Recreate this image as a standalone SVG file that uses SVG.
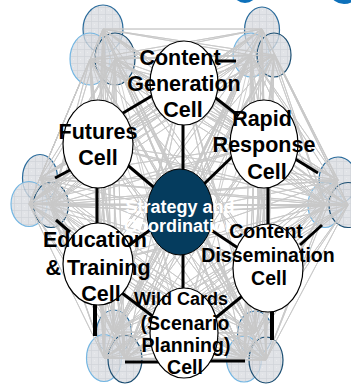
<svg xmlns="http://www.w3.org/2000/svg" width="351" height="384" viewBox="0 0 351 384">
  <defs>
    <pattern id="grid" width="7" height="7" patternUnits="userSpaceOnUse">
      <rect width="7" height="7" fill="#d9dce1"/>
      <path d="M0 0.5H7M0.5 0V7" stroke="#c6cad0" stroke-width="0.8"/>
      <rect x="3" y="3" width="1" height="1" fill="#e6e8eb"/>
    </pattern>
    <style>
      .sub { fill: url(#grid); fill-opacity: 0.8; stroke-width: 1.2; }
      .s1 { stroke: #2b6c9c; }
      .s2 { stroke: #74b6e2; }
      .s3 { stroke: #1b4e72; }
      .mesh { fill: none; stroke: #c8c8c8; stroke-width: 0.9; stroke-linejoin: round; }
      .link { fill: none; stroke: #000; stroke-width: 3; }
      .cell { fill: #fff; stroke: #000; stroke-width: 1.2; }
      .hub { fill: #053c5e; stroke: #000; stroke-width: 1; }
      text { font-family: "Liberation Sans", Arial, sans-serif; font-weight: bold; text-anchor: middle; fill: #000; }
      .big { font-size: 21.5px; }
      .mid { font-size: 19.5px; }
      .hubtxt { font-size: 18px; fill: #fff; }
    </style>
  </defs>

  <rect width="351" height="384" fill="#fff"/>

  <!-- partial blue shapes at the top edge -->
  <ellipse cx="245" cy="-6" rx="11" ry="9" fill="#0d70ba"/>
  <ellipse cx="344" cy="-6" rx="13" ry="10" fill="#0d70ba"/>

  <!-- satellite groups: three overlapping sub-units each -->
  <g id="group-top-left">
    <ellipse class="sub s1" cx="103" cy="29" rx="20" ry="24"/>
    <ellipse class="sub s2" cx="90" cy="59" rx="20" ry="26"/>
    <ellipse class="sub s3" cx="115" cy="59" rx="20" ry="26"/>
  </g>
  <g id="group-top-right">
    <ellipse class="sub s1" cx="262" cy="30" rx="17.5" ry="23"/>
    <ellipse class="sub s2" cx="251" cy="55" rx="18" ry="22"/>
    <ellipse class="sub s3" cx="274" cy="55" rx="17" ry="22"/>
  </g>
  <g id="group-left">
    <ellipse class="sub s1" cx="40" cy="178" rx="17.5" ry="23.5"/>
    <ellipse class="sub s2" cx="29" cy="204" rx="18" ry="22.5"/>
    <ellipse class="sub s3" cx="51" cy="205" rx="17.5" ry="22.5"/>
  </g>
  <g id="group-right">
    <ellipse class="sub s1" cx="338" cy="180" rx="19" ry="23"/>
    <ellipse class="sub s2" cx="325" cy="205" rx="17" ry="22.5"/>
    <ellipse class="sub s3" cx="348" cy="205" rx="19" ry="22.5"/>
  </g>
  <g id="group-bottom-left">
    <ellipse class="sub s1" cx="114" cy="332" rx="17.5" ry="22"/>
    <ellipse class="sub s2" cx="104" cy="358" rx="17.5" ry="23.5"/>
    <ellipse class="sub s3" cx="125" cy="359" rx="17" ry="24"/>
  </g>
  <g id="group-bottom-right">
    <ellipse class="sub s1" cx="255" cy="333" rx="17.5" ry="22"/>
    <ellipse class="sub s2" cx="244" cy="359" rx="17.5" ry="23"/>
    <ellipse class="sub s3" cx="266" cy="360" rx="17" ry="23"/>
  </g>

  <!-- connectors -->
  <g id="connectors">
    <!-- dense grey mesh between all units -->
    <path class="mesh" d="M103 29L262 29 103 29 251 55 103 29 274 55 103 29 40 178 103 29 29 204 103 29 51 205 103 29 338 180 103 29 325 205 103 29 348 205 103 29 114 332 103 29 104 358 103 29 125 359 103 29 255 333 103 29 244 359 103 29 266 360 103 29 184 83 103 29 98 144 103 29 264 144 103 29 180 212 103 29 98 264 103 29 268 268 103 29 184 333"/>
    <path class="mesh" d="M90 59L262 29 90 59 251 55 90 59 274 55 90 59 40 178 90 59 29 204 90 59 51 205 90 59 338 180 90 59 325 205 90 59 348 205 90 59 114 332 90 59 104 358 90 59 125 359 90 59 255 333 90 59 244 359 90 59 266 360 90 59 184 83 90 59 98 144 90 59 264 144 90 59 180 212 90 59 98 264 90 59 268 268 90 59 184 333"/>
    <path class="mesh" d="M115 59L262 29 115 59 251 55 115 59 274 55 115 59 40 178 115 59 29 204 115 59 51 205 115 59 338 180 115 59 325 205 115 59 348 205 115 59 114 332 115 59 104 358 115 59 125 359 115 59 255 333 115 59 244 359 115 59 266 360 115 59 184 83 115 59 98 144 115 59 264 144 115 59 180 212 115 59 98 264 115 59 268 268 115 59 184 333"/>
    <path class="mesh" d="M262 29L40 178 262 29 29 204 262 29 51 205 262 29 338 180 262 29 325 205 262 29 348 205 262 29 114 332 262 29 104 358 262 29 125 359 262 29 255 333 262 29 244 359 262 29 266 360 262 29 184 83 262 29 98 144 262 29 264 144 262 29 180 212 262 29 98 264 262 29 268 268 262 29 184 333"/>
    <path class="mesh" d="M251 55L40 178 251 55 29 204 251 55 51 205 251 55 338 180 251 55 325 205 251 55 348 205 251 55 114 332 251 55 104 358 251 55 125 359 251 55 255 333 251 55 244 359 251 55 266 360 251 55 184 83 251 55 98 144 251 55 264 144 251 55 180 212 251 55 98 264 251 55 268 268 251 55 184 333"/>
    <path class="mesh" d="M274 55L40 178 274 55 29 204 274 55 51 205 274 55 338 180 274 55 325 205 274 55 348 205 274 55 114 332 274 55 104 358 274 55 125 359 274 55 255 333 274 55 244 359 274 55 266 360 274 55 184 83 274 55 98 144 274 55 264 144 274 55 180 212 274 55 98 264 274 55 268 268 274 55 184 333"/>
    <path class="mesh" d="M40 178L338 180 40 178 325 205 40 178 348 205 40 178 114 332 40 178 104 358 40 178 125 359 40 178 255 333 40 178 244 359 40 178 266 360 40 178 184 83 40 178 98 144 40 178 264 144 40 178 180 212 40 178 98 264 40 178 268 268 40 178 184 333"/>
    <path class="mesh" d="M29 204L338 180 29 204 325 205 29 204 348 205 29 204 114 332 29 204 104 358 29 204 125 359 29 204 255 333 29 204 244 359 29 204 266 360 29 204 184 83 29 204 98 144 29 204 264 144 29 204 180 212 29 204 98 264 29 204 268 268 29 204 184 333"/>
    <path class="mesh" d="M51 205L338 180 51 205 325 205 51 205 348 205 51 205 114 332 51 205 104 358 51 205 125 359 51 205 255 333 51 205 244 359 51 205 266 360 51 205 184 83 51 205 98 144 51 205 264 144 51 205 180 212 51 205 98 264 51 205 268 268 51 205 184 333"/>
    <path class="mesh" d="M338 180L114 332 338 180 104 358 338 180 125 359 338 180 255 333 338 180 244 359 338 180 266 360 338 180 184 83 338 180 98 144 338 180 264 144 338 180 180 212 338 180 98 264 338 180 268 268 338 180 184 333"/>
    <path class="mesh" d="M325 205L114 332 325 205 104 358 325 205 125 359 325 205 255 333 325 205 244 359 325 205 266 360 325 205 184 83 325 205 98 144 325 205 264 144 325 205 180 212 325 205 98 264 325 205 268 268 325 205 184 333"/>
    <path class="mesh" d="M348 205L114 332 348 205 104 358 348 205 125 359 348 205 255 333 348 205 244 359 348 205 266 360 348 205 184 83 348 205 98 144 348 205 264 144 348 205 180 212 348 205 98 264 348 205 268 268 348 205 184 333"/>
    <path class="mesh" d="M114 332L255 333 114 332 244 359 114 332 266 360 114 332 184 83 114 332 98 144 114 332 264 144 114 332 180 212 114 332 98 264 114 332 268 268 114 332 184 333"/>
    <path class="mesh" d="M104 358L255 333 104 358 244 359 104 358 266 360 104 358 184 83 104 358 98 144 104 358 264 144 104 358 180 212 104 358 98 264 104 358 268 268 104 358 184 333"/>
    <path class="mesh" d="M125 359L255 333 125 359 244 359 125 359 266 360 125 359 184 83 125 359 98 144 125 359 264 144 125 359 180 212 125 359 98 264 125 359 268 268 125 359 184 333"/>
    <path class="mesh" d="M255 333L184 83 255 333 98 144 255 333 264 144 255 333 180 212 255 333 98 264 255 333 268 268 255 333 184 333"/>
    <path class="mesh" d="M244 359L184 83 244 359 98 144 244 359 264 144 244 359 180 212 244 359 98 264 244 359 268 268 244 359 184 333"/>
    <path class="mesh" d="M266 360L184 83 266 360 98 144 266 360 264 144 266 360 180 212 266 360 98 264 266 360 268 268 266 360 184 333"/>

    <!-- heavy black links between the cells -->
    <path class="link" d="M118 116L155 94"/>
    <path class="link" d="M208 92L240 117"/>
    <path class="link" d="M183 120V175"/>
    <path class="link" d="M125 163L157 190"/>
    <path class="link" d="M234 155L204 184"/>
    <path class="link" d="M97 185V226"/>
    <path class="link" d="M268 185V228"/>
    <path class="link" d="M150 230L125 248"/>
    <path class="link" d="M208 228L238 248"/>
    <path class="link" d="M183 250V292"/>
    <path class="link" d="M118 290L155 318"/>
    <path class="link" d="M246 293L213 320"/>
    <path class="link" d="M55 178L72 169"/>
    <path class="link" d="M56 220L70 232"/>
    <path class="link" d="M292 157L318 173"/>
    <path class="link" d="M300 245L322 225"/>
    <path class="link" d="M95 300V336" style="stroke-width:4"/>
    <path class="link" d="M272 305V340" style="stroke-width:4"/>
    <path class="link" d="M125 362H160"/>
    <path class="link" d="M208 361H245"/>
    <path class="link" d="M215 61H236"/>
  </g>

  <!-- cells -->
  <g id="content-generation">
    <ellipse class="cell" cx="184" cy="83" rx="34" ry="42"/>
  </g>
  <g id="futures">
    <ellipse class="cell" cx="98" cy="144" rx="35" ry="44"/>
  </g>
  <g id="rapid-response">
    <ellipse class="cell" cx="264" cy="144" rx="34" ry="44"/>
  </g>
  <g id="education-training">
    <ellipse class="cell" cx="98" cy="264" rx="35" ry="41"/>
  </g>
  <g id="content-dissemination">
    <ellipse class="cell" cx="268" cy="268" rx="35" ry="44"/>
  </g>
  <g id="wild-cards">
    <ellipse class="cell" cx="184" cy="333" rx="34" ry="45"/>
  </g>
  <g id="strategy-coordination">
    <ellipse class="hub" cx="180" cy="212" rx="33" ry="43"/>
    <text class="hubtxt" x="180" y="213">Strategy and</text>
    <text class="hubtxt" x="180" y="232">Coordination</text>
  </g>

  <!-- cell labels -->
  <g id="labels">
    <text class="big" x="180" y="65">Content</text>
    <text class="big" x="184" y="91">Generation</text>
    <text class="big" x="183" y="117">Cell</text>

    <text class="big" x="98" y="139">Futures</text>
    <text class="big" x="98" y="165">Cell</text>

    <text class="big" x="262" y="126">Rapid</text>
    <text class="big" x="264" y="152">Response</text>
    <text class="big" x="267" y="179">Cell</text>

    <text class="big" x="95" y="247">Education</text>
    <text class="big" x="98" y="275">&amp; Training</text>
    <text class="big" x="101" y="301">Cell</text>

    <text class="mid" x="266" y="238">Content</text>
    <text class="mid" x="268" y="262">Dissemination</text>
    <text class="mid" x="269" y="285">Cell</text>

    <text class="mid" x="181" y="305" style="font-size:18px">Wild Cards</text>
    <text class="mid" x="185" y="330">(Scenario</text>
    <text class="mid" x="186" y="352">Planning)</text>
    <text class="mid" x="185" y="374">Cell</text>
  </g>
</svg>
